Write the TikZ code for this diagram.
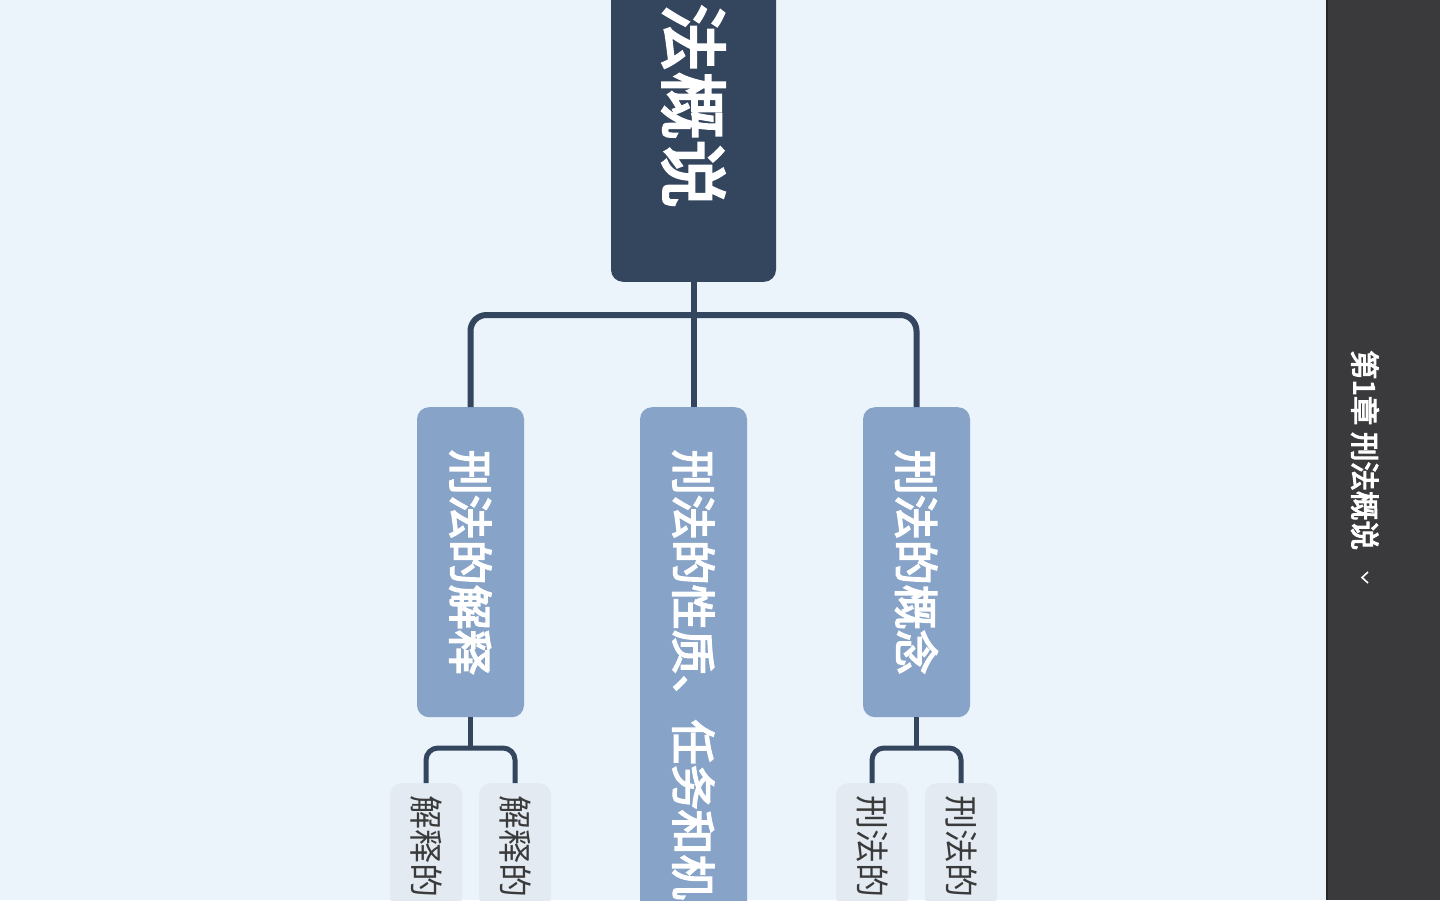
\documentclass[tikz,border=0pt]{standalone}
\usepackage{fontspec}
\newfontfamily\cjk{Noto Sans CJK SC}
\newfontfamily\cjkmid[FakeBold=3.5]{Noto Sans CJK SC}
\definecolor{paper}{HTML}{EBF3FB}
\definecolor{navy}{HTML}{34455E}
\definecolor{steel}{HTML}{87A3C8}
\definecolor{mist}{HTML}{E3EAF2}
\definecolor{ink}{HTML}{3A3A3A}
\definecolor{panel}{HTML}{3A3A3C}
\tikzset{x=1pt, y=1pt, % one unit is one pixel of the screen
mainbox/.style={rotate=-90, rounded corners=12pt, fill=navy, text=white, font=\cjkmid\fontsize{68}{68}\selectfont, minimum height=165pt, inner xsep=74pt}, % the centre topic
topicbox/.style={rotate=-90, rounded corners=12pt, fill=steel, text=white, font=\cjkmid\fontsize{45}{45}\selectfont, minimum height=107pt, inner xsep=42.5pt}, % first level
subbox/.style={rotate=-90, rounded corners=12pt, fill=mist, text=ink, font=\cjk\fontsize{34}{34}\selectfont, minimum height=72pt, inner xsep=12pt}, % second level
trunkline/.style={draw=navy, line width=6pt, rounded corners=16pt},
twigline/.style={draw=navy, line width=5pt, rounded corners=12pt},
}

\begin{document}
\begin{tikzpicture}
\useasboundingbox (0,0) rectangle (1440,-900);
\clip (0,0) rectangle (1440,-900);
\fill[paper] (0,0) rectangle (1326,-900);
\fill[panel] (1326,0) rectangle (1440,-900);
\draw[black!85, line width=2pt] (1327,0) -- (1327,-900);

\node[mainbox, anchor=east] (root) at (693.5,-282) {刑法概说};
\node[topicbox, anchor=west] (jieshi) at (470.5,-407) {刑法的解释};
\node[topicbox, anchor=west] (xingzhi) at (693.5,-407) {刑法的性质、任务和机};
\node[topicbox, anchor=west] (gainian) at (916.5,-407) {刑法的概念};
\node[subbox, anchor=west] (jieshi1) at (426,-783) {解释的};
\node[subbox, anchor=west] (jieshi2) at (515,-783) {解释的};
\node[subbox, anchor=west] (gainian1) at (872,-783) {刑法的};
\node[subbox, anchor=west] (gainian2) at (961,-783) {刑法的};

\coordinate (fork) at (693.5,-315);
\coordinate (jfork) at (470.5,-748);
\coordinate (gfork) at (916.5,-748);
\draw[trunkline] (root.east) -- (xingzhi.west);
\draw[trunkline] (jieshi.west) |- (fork) -| (gainian.west);
\draw[twigline] (jieshi.east) -- (jfork);
\draw[twigline] (jieshi1.west) |- (jfork) -| (jieshi2.west);
\draw[twigline] (gainian.east) -- (gfork);
\draw[twigline] (gainian1.west) |- (gfork) -| (gainian2.west);

% side panel
\node[rotate=-90, text=white, font=\cjkmid\fontsize{29.5}{29.5}\selectfont] (title) at (1365,-450) {第1章 刑法概说};
\draw[white, line width=1.6pt] (1368,-572) -- (1362,-577.5) -- (1368,-583);
\end{tikzpicture}
\end{document}
